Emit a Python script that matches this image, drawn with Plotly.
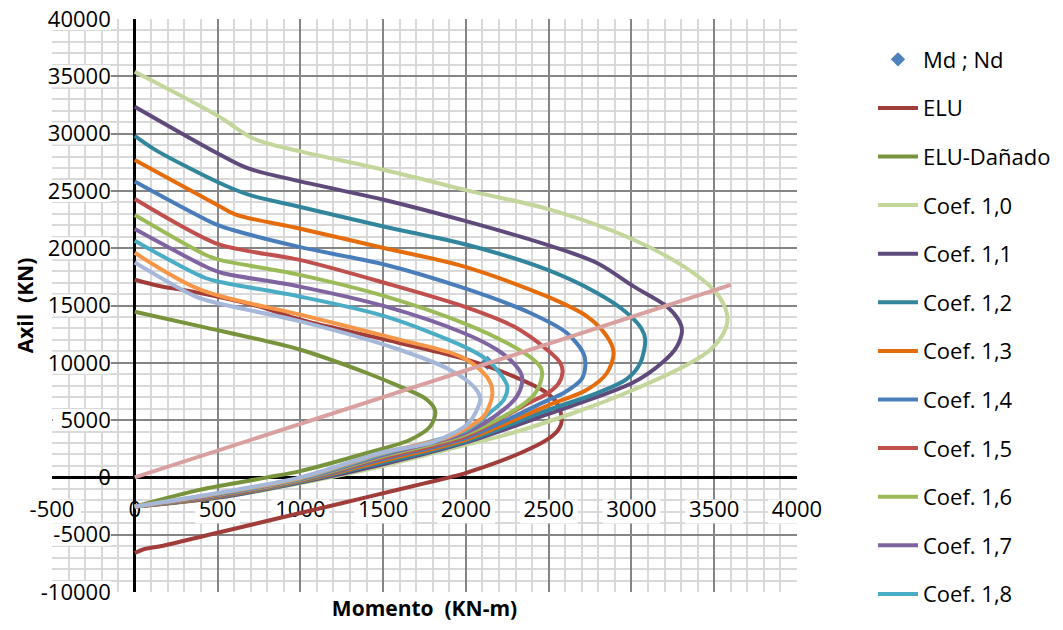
import plotly.graph_objects as go

# Axis ticks
x_ticks = [-500, 0, 500, 1000, 1500, 2000, 2500, 3000, 3500, 4000]
x_labels = ["-500", "0", "500", "1000", "1500", "2000", "2500", "3000", "3500", "4000"]
y_ticks = [-10000, -5000, 0, 5000, 10000, 15000, 20000, 25000, 30000, 35000, 40000]
y_labels = ["-10000", "-5000", "0", "5000", "10000", "15000", "20000", "25000", "30000", "35000", "40000"]

# Design point
md = [2130]
nd = [10000]

# Interaction diagrams (moment KN-m, axial KN)
elu_m = [0, 150, 396, 748, 1000, 1599, 2006, 2288, 2490, 2550, 2580, 2560, 2490, 2330, 2006, 1900, 1755, 1453, 1000, 500, 170, 60, 0]
elu_n = [17250, 16700, 16090, 14920, 13760, 11730, 10270, 8810, 7360, 6490, 5030, 4200, 3290, 2130, 420, 0, -500, -1550, -3110, -4830, -5960, -6250, -6600]

danado_m = [0, 396, 1000, 1402, 1599, 1765, 1815, 1785, 1664, 1402, 1000, 800, 396, 0]
danado_n = [14450, 13180, 11140, 9110, 7940, 6780, 5760, 4450, 3290, 2130, 550, 0, -1070, -2550]

coef_10_m = [0, 496, 720, 1000, 1503, 2006, 2510, 3013, 3315, 3496, 3560, 3580, 3557, 3476, 3355, 3013, 2650, 2208, 2000, 1500, 1000, 500, 0]
coef_10_n = [35400, 31600, 29550, 28450, 26850, 25050, 23360, 20740, 18410, 16380, 15000, 13800, 12600, 11140, 9980, 7650, 5620, 3580, 2850, 1000, -500, -1800, -2550]

coef_11_m = [0, 496, 678, 1000, 1503, 2006, 2510, 2792, 3013, 3214, 3284, 3305, 3275, 3194, 3013, 2490, 2000, 1500, 1000, 500, 0]
coef_11_n = [32350, 28310, 27000, 25830, 24230, 22340, 20200, 18710, 16670, 14920, 13760, 12890, 11430, 10120, 8300, 5500, 3050, 1150, -450, -1760, -2550]

coef_12_m = [0, 124, 496, 687, 1000, 1503, 2006, 2490, 2792, 2960, 3060, 3083, 3053, 2973, 2800, 2490, 2000, 1500, 1000, 500, 0]
coef_12_n = [29800, 28580, 25800, 24670, 23600, 21900, 20300, 18120, 16090, 14500, 13000, 12020, 9980, 8600, 7400, 5850, 3150, 1300, -400, -1720, -2550]

coef_13_m = [0, 496, 607, 1000, 1503, 1986, 2490, 2731, 2852, 2892, 2852, 2731, 2490, 2000, 1500, 1000, 500, 0]
coef_13_n = [27700, 23800, 22950, 21700, 20020, 18410, 15790, 14050, 12300, 10900, 9110, 7650, 6250, 3300, 1450, -350, -1680, -2550]

coef_14_m = [0, 496, 587, 1000, 1513, 1986, 2389, 2610, 2711, 2722, 2700, 2590, 2490, 2000, 1500, 1000, 500, 0]
coef_14_n = [25830, 22050, 21610, 20090, 18560, 16530, 14350, 12600, 10800, 9900, 8600, 7360, 6700, 3450, 1600, -300, -1640, -2550]

coef_15_m = [0, 486, 698, 989, 1513, 1986, 2288, 2490, 2570, 2584, 2560, 2490, 2380, 2000, 1500, 1000, 500, 0]
coef_15_n = [24290, 20450, 19720, 19000, 16960, 14920, 13180, 11140, 10000, 9200, 8200, 7300, 6500, 3600, 1720, -250, -1590, -2550]

coef_16_m = [0, 426, 506, 989, 1513, 1986, 2248, 2409, 2455, 2459, 2419, 2328, 2000, 1500, 1000, 500, 0]
coef_16_n = [22900, 19430, 19000, 17690, 15800, 13470, 11730, 10270, 9500, 8800, 7360, 6200, 3750, 1840, -200, -1540, -2550]

coef_17_m = [0, 446, 527, 989, 1513, 1986, 2188, 2288, 2335, 2340, 2308, 2228, 2000, 1500, 1000, 500, 0]
coef_17_n = [21670, 18270, 17840, 16670, 14920, 12600, 11140, 9980, 9000, 8300, 7070, 5910, 3900, 1950, -150, -1490, -2550]

coef_18_m = [0, 426, 547, 989, 1513, 1986, 2127, 2210, 2250, 2230, 2150, 2000, 1500, 1000, 500, 0]
coef_18_n = [20650, 17400, 16960, 15800, 14050, 11430, 10270, 9000, 7950, 6800, 5700, 4100, 2050, -100, -1440, -2550]

coef_19_m = [0, 396, 1000, 1599, 1966, 2107, 2150, 2160, 2140, 2107, 1906, 1500, 1000, 500, 0]
coef_19_n = [19600, 16380, 14200, 12020, 10560, 9110, 8200, 7300, 6200, 5320, 3580, 2150, -50, -1400, -2550]

coef_20_m = [0, 365, 496, 1000, 1599, 1902, 2046, 2087, 2060, 2006, 1805, 1500, 1000, 500, 0]
coef_20_n = [18750, 15800, 15220, 13610, 11140, 9400, 7940, 6900, 5700, 4600, 3100, 2200, 0, -1360, -2550]

# Load path through the design point
recta_m = [0, 3600]
recta_n = [0, 16800]

series = [
    ("ELU", elu_m, elu_n, "#a03c39", True),
    ("ELU-Dañado", danado_m, danado_n, "#77933c", True),
    ("Coef. 1,0", coef_10_m, coef_10_n, "#c3d69b", True),
    ("Coef. 1,1", coef_11_m, coef_11_n, "#604a7b", True),
    ("Coef. 1,2", coef_12_m, coef_12_n, "#31859c", True),
    ("Coef. 1,3", coef_13_m, coef_13_n, "#e46c0a", True),
    ("Coef. 1,4", coef_14_m, coef_14_n, "#4a7ebb", True),
    ("Coef. 1,5", coef_15_m, coef_15_n, "#c0504d", True),
    ("Coef. 1,6", coef_16_m, coef_16_n, "#9bbb59", True),
    ("Coef. 1,7", coef_17_m, coef_17_n, "#8064a2", True),
    ("Coef. 1,8", coef_18_m, coef_18_n, "#4bacc6", True),
    ("Coef. 1,9", coef_19_m, coef_19_n, "#f79646", False),
    ("Coef. 2,0", coef_20_m, coef_20_n, "#a5b8d9", False),
    ("Recta", recta_m, recta_n, "#d9a09f", False),
]

FONT = "Open Sans, Liberation Sans, sans-serif"

fig = go.Figure()
fig.add_trace(go.Scatter(
    x=md, y=nd, mode="markers", name="Md ; Nd", legendgroup="Md ; Nd",
    marker=dict(symbol="diamond", size=11, color="#4f81bd"),
))
for name, m, n, color, show in series:
    fig.add_trace(go.Scatter(
        x=m, y=n, mode="lines", name=name, legendgroup=name, showlegend=show,
        line=dict(color=color, width=4, shape="spline", smoothing=0.9),
    ))

# White backgrounds behind the tick labels (above the grid, below the curves)
shapes = []
for v, lab in zip(y_ticks, y_labels):
    if v == 0:
        continue
    w = 13.5 * len(lab) + 4
    shapes.append(dict(type="rect", layer="between", xref="x", yref="y",
                       xsizemode="pixel", xanchor=0, x0=-24 - w, x1=-24,
                       ysizemode="pixel", yanchor=v, y0=-11, y1=11,
                       fillcolor="white", line=dict(width=0)))
for v, lab in zip(x_ticks, x_labels):
    if v == 0:
        continue
    w = 13.5 * len(lab) + 4
    shapes.append(dict(type="rect", layer="between", xref="x", yref="y",
                       xsizemode="pixel", xanchor=v, x0=-w / 2, x1=w / 2,
                       ysizemode="pixel", yanchor=0, y0=-46, y1=-22,
                       fillcolor="white", line=dict(width=0)))

fig.update_layout(
    width=1063, height=630,
    margin=dict(l=52, r=266, t=19, b=38, autoexpand=False),
    paper_bgcolor="white", plot_bgcolor="white",
    font=dict(family=FONT, size=22, color="black"),
    showlegend=True,
    legend=dict(x=1.102, y=0.966, xanchor="left", yanchor="top",
                font=dict(family=FONT, size=22, color="black"),
                tracegroupgap=17, itemwidth=40, maxheight=625,
                bgcolor="rgba(0,0,0,0)"),
    shapes=shapes,
    xaxis=dict(
        range=[-500, 4000], anchor="free", position=0.2,
        tickmode="array", tickvals=x_ticks, ticktext=x_labels,
        ticks="", ticklabelstandoff=17, layer="below traces",
        showgrid=True, gridcolor="#858585", gridwidth=2,
        minor=dict(dtick=100, showgrid=True, gridcolor="#d9d9d9", gridwidth=2),
        zeroline=True, zerolinecolor="black", zerolinewidth=3,
        showline=False,
        title=dict(text="<b>Momento\u00a0 (KN-m)</b>", standoff=78,
                   font=dict(family=FONT, size=21, color="black")),
    ),
    yaxis=dict(
        range=[-10000, 40000], anchor="free", position=500 / 4500,
        tickmode="array", tickvals=y_ticks, ticktext=y_labels,
        ticks="", ticklabelstandoff=24, layer="below traces",
        showgrid=True, gridcolor="#858585", gridwidth=2,
        minor=dict(dtick=1000, showgrid=True, gridcolor="#d9d9d9", gridwidth=2),
        zeroline=True, zerolinecolor="black", zerolinewidth=3,
        showline=False,
        title=dict(text="<b>Axil\u00a0 (KN)</b>", standoff=0,
                   font=dict(family=FONT, size=21, color="black")),
    ),
)

fig.write_html("out.html")
